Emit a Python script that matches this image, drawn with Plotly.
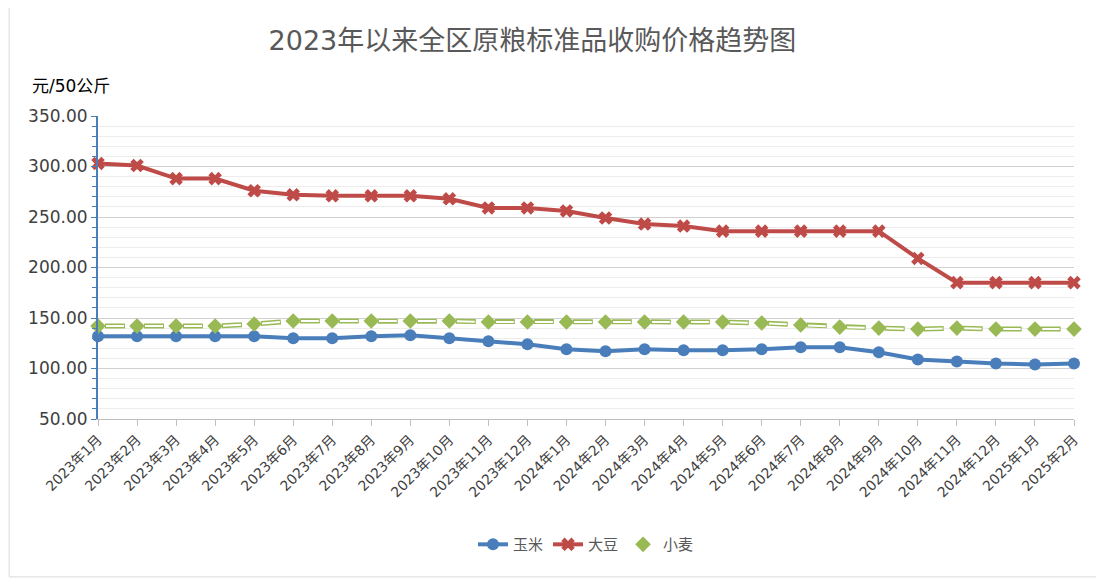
import plotly.graph_objects as go

months = [f"2023年{m}月" for m in range(1, 13)] + [f"2024年{m}月" for m in range(1, 13)] + ["2025年1月", "2025年2月"]

corn = [132, 132, 132, 132, 132, 130, 130, 132, 133, 130, 127, 124, 119, 117, 119, 118, 118, 119, 121, 121, 116, 109, 107, 105, 104, 105]
soybean = [303, 301, 288, 288, 276, 272, 271, 271, 271, 268, 259, 259, 256, 249, 243, 241, 236, 236, 236, 236, 236, 209, 185, 185, 185, 185]
wheat = [142, 142, 142, 142, 144, 147, 147, 147, 147, 147, 146, 146, 146, 146, 146, 146, 146, 145, 143, 141, 140, 139, 140, 139, 139, 139]

fig = go.Figure()
fig.add_trace(go.Scatter(x=months, y=corn, name="玉米", mode="lines+markers",
                         line=dict(color="#4a7ebb", width=4),
                         marker=dict(symbol="circle", size=12, color="#4a7ebb"), cliponaxis=False))
fig.add_trace(go.Scatter(x=months, y=soybean, name="大豆", mode="lines+markers",
                         line=dict(color="#be4b48", width=4),
                         marker=dict(symbol="x", size=12, color="#be4b48"), cliponaxis=False))
# wheat: hollow dashed line (green outer, white inner) with diamonds
fig.add_trace(go.Scatter(x=months, y=wheat, name="小麦", mode="lines", legendgroup="w",
                         line=dict(color="#98b954", width=5, dash="0px,7px,20px,12px"),
                         hoverinfo="skip", showlegend=False))
fig.add_trace(go.Scatter(x=months, y=wheat, name="小麦", mode="lines", legendgroup="w",
                         line=dict(color="white", width=2, dash="0px,8px,18px,13px"),
                         hoverinfo="skip", showlegend=False))
fig.add_trace(go.Scatter(x=months, y=wheat, name="小麦", mode="markers", legendgroup="w",
                         marker=dict(symbol="diamond", size=12, color="#98b954"), cliponaxis=False))

fig.update_layout(
    width=1104, height=578,
    paper_bgcolor="white", plot_bgcolor="white",
    font=dict(family="DejaVu Sans, Noto Sans CJK SC", size=14, color="#595959"),
    title=dict(text="2023年以来全区原粮标准品收购价格趋势图", x=0.475, xanchor="center", y=0.96,
               font=dict(size=27, color="#595959")),
    margin=dict(l=90, r=38, t=108, b=167),
    legend=dict(orientation="h", x=0.5, xanchor="center", y=-0.36, yanchor="top", font=dict(size=15)),
    annotations=[dict(text="元/50公斤", xref="paper", yref="paper", x=-0.07, y=1.06,
                      xanchor="left", yanchor="bottom", showarrow=False,
                      font=dict(size=17, color="black"))],
    showlegend=True,
)
fig.update_xaxes(type="category", range=[0, 25], showgrid=False, tickangle=-45,
                 showline=True, linecolor="#bfbfbf", ticks="outside", ticklen=6, tickcolor="#bfbfbf",
                 tickfont=dict(size=14, color="#404040"))
fig.update_yaxes(range=[50, 350], dtick=50, tickformat=".2f", showgrid=True, gridcolor="#d0d0d0",
                 showline=True, linecolor="#4a7ebb", linewidth=2, ticks="outside", ticklen=5,
                 tickcolor="#4a7ebb", tickfont=dict(size=17, color="#404040"),
                 minor=dict(dtick=10, showgrid=True, gridcolor="#ececec", ticks="outside",
                            ticklen=4, tickcolor="#4a7ebb"),
                 zeroline=False)
fig.add_shape(type="rect", xref="paper", yref="paper", x0=-0.091, x1=1.037, y0=-0.521, y1=1.373,
              line=dict(color="#d9d9d9", width=1))
fig.write_html("out.html")
